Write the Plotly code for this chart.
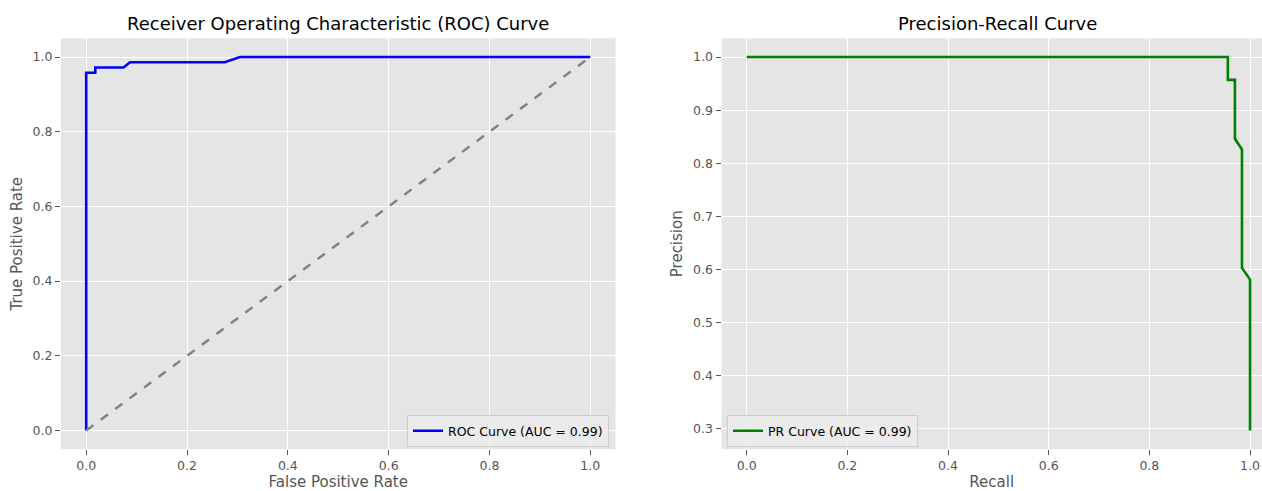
import plotly.graph_objects as go

W, H = 1262, 491

# ROC data
roc_fpr = [0.0, 0.0, 0.018, 0.018, 0.074, 0.087, 0.275, 0.305, 1.0]
roc_tpr = [0.0, 0.958, 0.958, 0.972, 0.972, 0.986, 0.986, 1.0, 1.0]
diag_x = [0.0, 1.0]
diag_y = [0.0, 1.0]

# PR data
pr_recall = [0.0, 0.956, 0.956, 0.970, 0.970, 0.984, 0.984, 1.0, 1.0]
pr_precision = [1.0, 1.0, 0.957, 0.957, 0.846, 0.826, 0.603, 0.581, 0.297]

x_ticks = [0.0, 0.2, 0.4, 0.6, 0.8, 1.0]
roc_y_ticks = [0.0, 0.2, 0.4, 0.6, 0.8, 1.0]
pr_y_ticks = [0.3, 0.4, 0.5, 0.6, 0.7, 0.8, 0.9, 1.0]

roc_label = "ROC Curve (AUC = 0.99)"
pr_label = "PR Curve (AUC = 0.99)"

FONT = "DejaVu Sans"
GREY = "#555555"

fig = go.Figure()
fig.add_trace(go.Scatter(x=roc_fpr, y=roc_tpr, mode="lines", name=roc_label,
                         line=dict(color="blue", width=2.6), xaxis="x", yaxis="y",
                         legend="legend"))
fig.add_trace(go.Scatter(x=diag_x, y=diag_y, mode="lines", showlegend=False,
                         line=dict(color="gray", width=2.4, dash="dash"), xaxis="x", yaxis="y"))
fig.add_trace(go.Scatter(x=pr_recall, y=pr_precision, mode="lines", name=pr_label,
                         line=dict(color="green", width=2.6), xaxis="x2", yaxis="y2",
                         legend="legend2"))

def px_x(p):
    return p / W

def px_y(p):
    return 1 - p / H

ydom = [px_y(451), px_y(38.5)]

axis_common = dict(
    showgrid=True, gridcolor="white", gridwidth=1,
    zeroline=False, showline=False,
    ticks="outside", ticklen=5, tickwidth=1, tickcolor=GREY,
    tickfont=dict(family=FONT, size=12.5, color=GREY),
    tickformat=".1f",
)
title_font = dict(family=FONT, size=15, color=GREY)
legend_common = dict(bgcolor="rgba(236,236,236,0.85)", bordercolor="#cccccc", borderwidth=1,
                     font=dict(family=FONT, size=12.5, color="black"), itemwidth=30)

fig.update_layout(
    width=W, height=H,
    margin=dict(l=0, r=0, t=0, b=0),
    paper_bgcolor="white",
    plot_bgcolor="#E5E5E5",
    font=dict(family=FONT, color=GREY),
    xaxis=dict(domain=[px_x(61), px_x(615.5)], range=[-0.05, 1.05], tickvals=x_ticks,
               anchor="y",
               title=dict(text="False Positive Rate", font=title_font, standoff=7),
               **axis_common),
    yaxis=dict(domain=ydom, range=[-0.05, 1.05], tickvals=roc_y_ticks, anchor="x",
               title=dict(text="True Positive Rate", font=title_font, standoff=6),
               **axis_common),
    xaxis2=dict(domain=[px_x(721.5), 1.0], range=[-0.05, 1.0238], tickvals=x_ticks,
                anchor="y2",
                title=dict(text="Recall", font=title_font, standoff=7),
                **axis_common),
    yaxis2=dict(domain=ydom, range=[0.2618, 1.0352], tickvals=pr_y_ticks, anchor="x2",
                title=dict(text="Precision", font=title_font, standoff=6),
                **axis_common),
    legend=dict(x=px_x(609), y=px_y(449), xanchor="right", yanchor="bottom", **legend_common),
    legend2=dict(x=px_x(727), y=px_y(449), xanchor="left", yanchor="bottom", **legend_common),
    annotations=[
        dict(text="Receiver Operating Characteristic (ROC) Curve", x=px_x(338), y=px_y(24),
             xref="paper", yref="paper", showarrow=False, xanchor="center", yanchor="middle",
             font=dict(family=FONT, size=18, color="black")),
        dict(text="Precision-Recall Curve", x=px_x(997), y=px_y(24),
             xref="paper", yref="paper", showarrow=False, xanchor="center", yanchor="middle",
             font=dict(family=FONT, size=18, color="black")),
    ],
)

fig.write_html("out.html", config={"displayModeBar": False},
               post_script="document.body.style.margin='0';document.body.style.overflow='hidden';")
